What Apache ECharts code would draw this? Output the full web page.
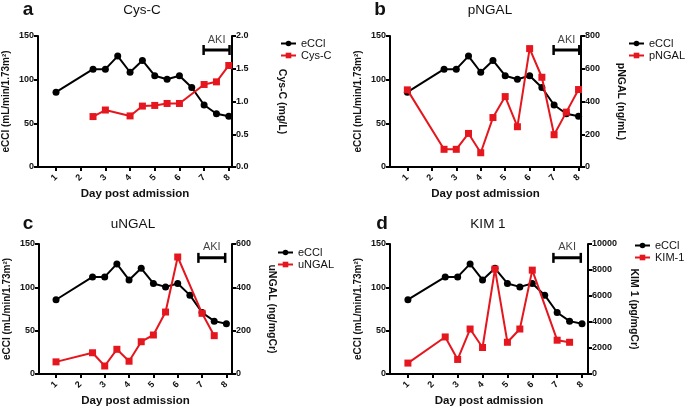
<!DOCTYPE html>
<html><head><meta charset="utf-8">
<script src="https://cdn.jsdelivr.net/npm/echarts@6/dist/echarts.min.js"></script>
<style>html,body{margin:0;padding:0;background:#fff}#c{width:685px;height:408px}</style>
</head><body><div id="c"></div>
<script>
const dayTicks = [1,2,3,4,5,6,7,8];
const ecclDays = [1,2.5,3,3.5,4,4.5,5,5.5,6,6.5,7,7.5,8];
const ecclValues = [85.7,112,112,127,108.5,122,104.5,100.5,104.5,91,71,61,58];
const cysDays = [2.5,3,4,4.5,5,5.5,6,7,7.5,8];
const cysValues = [0.77,0.87,0.78,0.93,0.94,0.97,0.97,1.26,1.3,1.55];
const pngalDays = [1,2.5,3,3.5,4,4.5,5,5.5,6,6.5,7,7.5,8];
const pngalValues = [471,108,108,205,87,302,430,246,723,548,197,335,473];
const ungalDays = [1,2.5,3,3.5,4,4.5,5,5.5,6,7,7.5];
const ungalValues = [56,98,37,114,59,149,180,286,540,280,177];
const kimDays = [1,2.5,3,3.5,4,4.5,5,5.5,6,7,7.5];
const kimValues = [840,2850,1120,3460,2040,8070,2440,3460,7990,2600,2440];
const akiA = [6.98,8.03], akiB = [6.98,8.03], akiC = [6.85,7.95], akiD = [6.85,7.95];
const akiLevel = 134;

const RED = '#e5161d';
const FONT = 'Liberation Sans, Arial, sans-serif';
const zip = (xs, ys) => xs.map((x, i) => [x, ys[i]]);

const panels = [
  {letter:'a', title:'Cys-C', name:'Cys-C', rname:'Cys-C (mg/L)', days:cysDays, vals:cysValues, rmax:2, rint:0.5, fmt:v=>v.toFixed(1), aki:akiA,
   grid:{left:38, top:36, width:194, height:131}, xr:[0.27,8.13], lx:28, tx:142, ty:2, legX:280, legY:38, rgap:44},
  {letter:'b', title:'pNGAL', name:'pNGAL', rname:'pNGAL (ng/mL)', days:pngalDays, vals:pngalValues, rmax:800, rint:200, fmt:v=>String(v), aki:akiB,
   grid:{left:390, top:36, width:191, height:131}, xr:[0.29,8.1], lx:380, tx:490, ty:2, legX:628, legY:38, rgap:34},
  {letter:'c', title:'uNGAL', name:'uNGAL', rname:'uNGAL (ng/mgCr)', days:ungalDays, vals:ungalValues, rmax:600, rint:200, fmt:v=>String(v), aki:akiC,
   grid:{left:39, top:244, width:193, height:132}, xr:[0.3,8.23], lx:28, tx:133, ty:216, legX:277, legY:247, rgap:34},
  {letter:'d', title:'KIM 1', name:'KIM-1', rname:'KIM 1 (pg/mgCr)', days:kimDays, vals:kimValues, rmax:10000, rint:2000, fmt:v=>String(v), aki:akiD,
   grid:{left:390, top:244, width:198, height:132}, xr:[0.28,8.24], lx:382, tx:488, ty:216, legX:634, legY:240, rgap:40}
];

const option = {animation:false, backgroundColor:'#fff', title:[], grid:[], xAxis:[], yAxis:[], series:[], legend:[]};
const axisLine = {show:true, lineStyle:{color:'#000', width:2}};
const axisTick = {show:true, length:4, lineStyle:{color:'#000', width:2}};
const labelStyle = {color:'#111', fontSize:9, fontWeight:'bold', fontFamily:FONT};

panels.forEach((p, i) => {
  option.title.push({text:p.letter, left:p.lx, top:p.ty-2, padding:0, textAlign:'center', textStyle:{fontSize:19, fontWeight:'bold', color:'#111', fontFamily:FONT}});
  option.title.push({text:p.title, left:p.tx, top:p.ty+1, padding:0, textAlign:'center', textStyle:{fontSize:13.5, fontWeight:'normal', color:'#111', fontFamily:FONT}});
  option.grid.push(Object.assign({containLabel:false}, p.grid));
  option.xAxis.push({type:'value', gridIndex:i, min:p.xr[0], max:p.xr[1], splitLine:{show:false},
    axisLine, axisTick:Object.assign({customValues:dayTicks}, axisTick),
    axisLabel:Object.assign({customValues:dayTicks, rotate:45, margin:9}, labelStyle),
    name:'Day post admission', nameLocation:'middle', nameGap:21,
    nameTextStyle:{fontSize:11.5, fontWeight:'bold', color:'#111', fontFamily:FONT}});
  option.yAxis.push({type:'value', gridIndex:i, min:0, max:150, interval:50, position:'left', splitLine:{show:false},
    axisLine, axisTick, axisLabel:Object.assign({margin:4}, labelStyle),
    name:'eCCl (mL/min/1.73m²)', nameLocation:'middle', nameGap:27, nameRotate:90,
    nameTextStyle:{fontSize:10, fontWeight:'bold', color:'#111', fontFamily:FONT}});
  option.yAxis.push({type:'value', gridIndex:i, min:0, max:p.rmax, interval:p.rint, position:'right', splitLine:{show:false},
    axisLine, axisTick, axisLabel:Object.assign({margin:4, formatter:p.fmt}, labelStyle),
    name:p.rname, nameLocation:'middle', nameGap:p.rgap, nameRotate:-90,
    nameTextStyle:{fontSize:10.5, fontWeight:'bold', color:'#111', fontFamily:FONT}});
  option.series.push({name:'eCCl', type:'line', xAxisIndex:i, yAxisIndex:2*i, data:zip(ecclDays, ecclValues),
    symbol:'circle', symbolSize:7, lineStyle:{color:'#000', width:2}, itemStyle:{color:'#000'}, z:3});
  option.series.push({name:p.name, type:'line', xAxisIndex:i, yAxisIndex:2*i+1, data:zip(p.days, p.vals),
    symbol:'rect', symbolSize:7, lineStyle:{color:RED, width:2}, itemStyle:{color:RED}, z:4});
  option.series.push({name:'AKI'+i, type:'line', xAxisIndex:i, yAxisIndex:2*i, silent:true,
    data:[[p.aki[0], akiLevel], [p.aki[1], akiLevel]],
    symbol:'rect', symbolSize:[2.5, 10], lineStyle:{color:'#000', width:3}, itemStyle:{color:'#000'}, z:5});
  option.series.push({name:'AKIlabel'+i, type:'scatter', xAxisIndex:i, yAxisIndex:2*i, silent:true,
    data:[[(p.aki[0]+p.aki[1])/2, akiLevel]], symbol:'circle', symbolSize:2, itemStyle:{color:'transparent'},
    label:{show:true, formatter:'AKI', position:'top', distance:4, fontSize:11, color:'#111', fontFamily:FONT}, z:5});
  option.legend.push({left:p.legX, top:p.legY, orient:'vertical', padding:0, data:['eCCl', p.name], itemWidth:15, itemHeight:7, itemGap:1,
    textStyle:{fontSize:11, color:'#111', fontFamily:FONT, padding:[0,0,0,0]}, selectedMode:false});
});

const chart = echarts.init(document.getElementById('c'), null, {renderer:'canvas'});
chart.setOption(option);
</script></body></html>
